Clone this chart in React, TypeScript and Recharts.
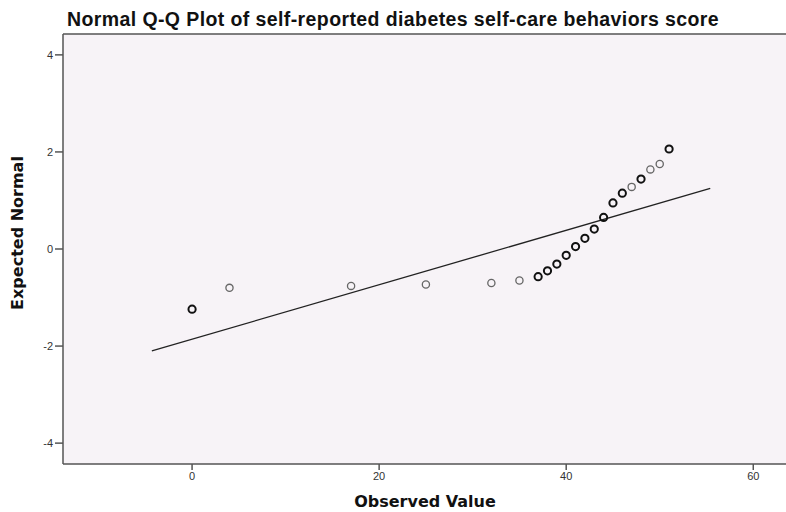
import { ScatterChart, Scatter, XAxis, YAxis, CartesianGrid, ReferenceLine } from 'recharts'

// observed scores with a single case
const singleObserved = [4, 17, 25, 32, 35, 47, 49, 50]
const singleExpected = [-0.8, -0.76, -0.73, -0.7, -0.65, 1.28, 1.64, 1.75]

// observed scores with repeated cases (drawn darker)
const repeatObserved = [0, 37, 38, 39, 40, 41, 42, 43, 44, 45, 46, 48, 51]
const repeatExpected = [-1.24, -0.57, -0.45, -0.31, -0.13, 0.05, 0.22, 0.41, 0.65, 0.95, 1.15, 1.44, 2.06]

// normal reference line endpoints
const lineObserved = [-4.3, 55.4]
const lineExpected = [-2.1, 1.25]

const xTicks = [0, 20, 40, 60]
const yTicks = [-4, -2, 0, 2, 4]

const singles = singleObserved.map((x, i) => ({ x, y: singleExpected[i] }))
const repeats = repeatObserved.map((x, i) => ({ x, y: repeatExpected[i] }))
const segment = lineObserved.map((x, i) => ({ x, y: lineExpected[i] }))

const font = '"Liberation Sans", Arial, sans-serif'
const labelFont = '"DejaVu Sans", Verdana, sans-serif'
const axisColor = '#555'

const ring = (color: string, width: number) => (props: any) => (
  <circle cx={props.cx} cy={props.cy} r={3.6} fill="none" stroke={color} strokeWidth={width} />
)

export default function App() {
  return (
    <div style={{ position: 'absolute', left: 0, top: 0, width: 786, height: 512, background: '#fff', fontFamily: font, overflow: 'hidden' }}>
      <div
        style={{
          position: 'absolute', left: 67, top: 10, fontSize: 19.5, lineHeight: 1, letterSpacing: 0.4,
          fontWeight: 700, color: '#111', whiteSpace: 'nowrap',
        }}
      >
        Normal Q-Q Plot of self-reported diabetes self-care behaviors score
      </div>
      <div
        style={{
          position: 'absolute', left: 18, top: 233, fontSize: 16, lineHeight: 1, fontWeight: 700, color: '#111',
          fontFamily: labelFont, whiteSpace: 'nowrap', transform: 'translate(-50%, -50%) rotate(-90deg)',
        }}
      >
        Expected Normal
      </div>
      <div
        style={{
          position: 'absolute', left: 425, top: 494, fontSize: 16, lineHeight: 1, fontWeight: 700, color: '#111',
          fontFamily: labelFont, whiteSpace: 'nowrap', transform: 'translateX(-50%)', zIndex: 1,
        }}
      >
        Observed Value
      </div>
      <ScatterChart width={786} height={512} margin={{ top: 34, right: 0, bottom: 0, left: 0 }}>
        <CartesianGrid horizontal={false} vertical={false} fill="#f7f3f7" />
        <XAxis
          type="number"
          dataKey="x"
          domain={[-13.8, 63.5]}
          ticks={xTicks}
          allowDataOverflow
          height={48}
          stroke={axisColor}
          strokeWidth={1.5}
          tickSize={6}
          tick={{ fontSize: 11, fill: '#333', fontFamily: font }}
        />
        <YAxis
          type="number"
          dataKey="y"
          domain={[-4.43, 4.43]}
          ticks={yTicks}
          allowDataOverflow
          width={63}
          stroke={axisColor}
          strokeWidth={1.5}
          tickSize={8}
          tickMargin={2}
          tick={{ fontSize: 11, fill: '#333', fontFamily: font }}
        />
        <ReferenceLine y={4.43} stroke={axisColor} strokeWidth={1.5} />
        <ReferenceLine segment={segment} stroke="#222" strokeWidth={1.3} />
        <Scatter data={singles} shape={ring('#666', 1.3)} isAnimationActive={false} />
        <Scatter data={repeats} shape={ring('#111', 2)} isAnimationActive={false} />
      </ScatterChart>
    </div>
  )
}
